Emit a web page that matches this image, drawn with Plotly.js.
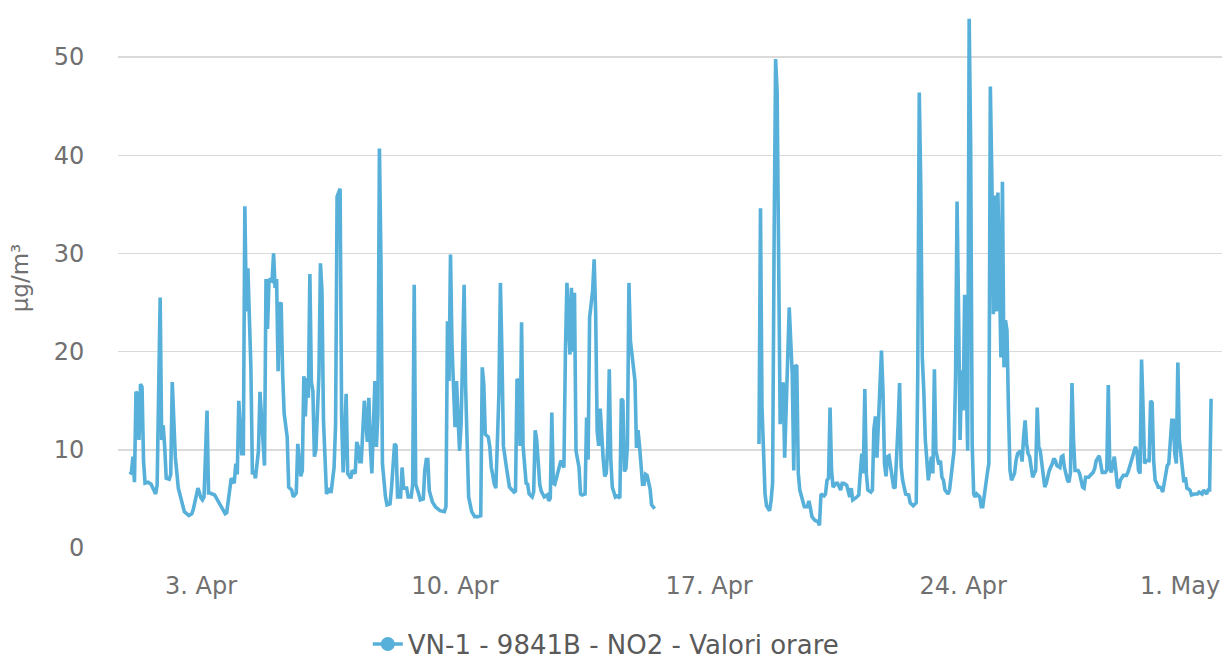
<!DOCTYPE html>
<html>
<head>
<meta charset="utf-8">
<script src="https://cdn.plot.ly/plotly-3.0.1.min.js"></script>
<style>html,body{margin:0;padding:0;background:#fff;}#chart{width:1226px;height:660px;}</style>
</head>
<body>
<div id="chart"></div>
<script>
// Hours since 2023-04-01 00:00 and hourly NO2 values (µg/m³); null marks the missing-data gap
const hours = [1,2,3,4,5,6,7,8,9,10,11,13,15,17,18,19,21,22,23,24,25,27,28,29,30,31,33,35,37,40,42,43,45,46,48,49,50,52,53,54,57,59,62,64,65,67,68,70,71,72,73,75,76,77,78,79,81,82,83,84,86,87,88,90,91,92,93,95,96,97,98,99,100,101,102,103,105,106,108,109,111,112,114,115,116,117,118,119,120,121,122,123,124,126,127,128,129,131,133,134,136,137,138,140,141,142,144,145,147,148,150,151,152,153,154,155,156,158,159,160,161,163,164,165,166,167,168,170,171,173,174,176,177,178,180,181,182,184,185,187,188,189,190,192,193,195,196,197,198,199,201,203,206,209,210,211,212,213,214,216,217,218,219,220,222,223,224,225,227,229,231,233,234,235,236,238,239,240,242,243,245,246,247,248,250,252,255,256,257,258,259,260,261,263,264,265,267,268,269,270,272,273,275,277,278,279,280,281,282,284,285,286,287,288,289,290,292,293,294,295,296,298,299,300,302,303,304,305,307,308,309,310,311,312,314,315,316,317,318,319,320,322,323,325,326,327,328,329,330,331,332,333,335,336,337,338,339,340,341,342,343,345,346,348,
380,
417,418,419,420,421,422,424,425,426,427,428,429,430,431,432,433,434,435,436,437,438,439,440,441,442,443,444,446,447,449,450,451,452,454,456,457,458,460,461,462,463,464,465,466,468,469,471,472,473,475,476,477,478,479,481,483,484,485,486,487,488,489,491,492,493,494,495,496,498,499,500,501,502,503,505,506,507,508,509,510,511,512,514,516,517,519,521,522,523,524,525,526,527,529,530,531,532,533,534,536,537,538,539,540,542,543,544,546,547,548,549,550,551,552,553,554,555,556,557,558,559,560,561,563,564,565,567,568,569,570,571,572,573,574,575,576,577,578,579,580,581,582,583,584,586,587,588,590,591,592,593,594,595,596,597,598,599,600,601,602,603,604,605,606,607,608,609,611,612,613,614,616,617,618,619,621,622,623,624,625,626,628,629,630,631,632,633,634,635,636,638,639,640,642,643,644,646,647,648,649,650,651,652,653,654,655,656,658,659,660,661,662,664,665,666,667,668,669,670,671,672,673,675,676,677,678,679,680,681,682,683,684,686,687,688,689,690,691,692,693,694,695,696,697,698,699,700,702,703,705,707,708,710,711,713,714,715,716];
const no2 = [7.5,7.7,9.3,6.7,15.9,15.7,11,16.7,16.4,8.9,6.6,6.7,6.5,5.7,5.5,6.4,25.5,11,12.5,10.3,7.1,7,7.5,16.9,12,9.3,6.1,4.9,3.7,3.3,3.5,4,5.7,6.1,5.1,4.9,5.2,14,5.6,5.6,5.4,4.9,4.1,3.5,3.6,5.6,7.1,6.6,8.6,7.5,15,9.6,9.6,34.8,24.1,28.5,18.4,7.5,7.9,7.1,9.9,15.9,13.7,8.4,27.4,22.3,27.4,27.2,30,26.5,27.4,18,24.8,25,17.7,13.7,11.3,6.2,5.9,5.2,5.6,10.6,7.3,7.9,17.5,13.4,17.3,15.3,27.9,16.9,16,9.3,10,17.7,29,26.2,13,5.5,6.1,5.6,8.2,12.5,35.8,36.6,13.3,7.7,15.7,7.6,7.1,7.9,7.6,10.8,10.3,8.8,8.8,12.6,15,10.8,15.3,10.3,7.6,17,10.3,13.7,40.7,29.4,8.6,5.2,4.4,4.5,6.1,10.6,10.4,5.2,5.2,8.2,6.1,6.1,5.2,5.2,6.5,26.8,6.5,5.5,4.9,5,7.9,9,9,5.8,4.7,4.2,3.8,3.7,4.2,23.1,17,29.9,20.6,12.3,17,13.2,9.9,12.6,26.8,16.4,8.6,5.2,3.7,3.2,3.2,3.3,18.4,16.7,11.6,11.3,10.3,8.2,6.5,6.1,15.6,27,20,10.4,8.2,6.2,5.7,5.8,17.2,17,10.4,23,10.4,6.6,6.5,5.5,5.2,5.7,12,11,6.5,5.8,5.2,5.4,4.8,5.1,13.8,6.6,6.5,7.8,8.3,8.9,8.6,8.2,20,27,19.7,26.5,20,26,9.9,8.2,5.5,5.4,5.5,13.3,9,23.5,26.2,29.4,24,11.9,10.4,14.2,9,7.3,7.6,10.4,18.2,9,6.2,5.2,5.3,5.1,15.2,15,7.8,8.1,10.4,27,21.1,19.6,17,10.2,12,10.4,8.2,6.5,6.5,7.5,7.4,6,4.4,4.0,
null,
10.6,34.6,14.3,10,5.5,4.3,3.8,4.8,6.6,31.1,49.8,46.5,27.9,12.6,16.7,16.7,9.2,14.3,18.3,24.5,21.1,17.7,7.9,18.6,18.5,7.6,5.9,4.7,4.2,4.2,4.8,4.1,3.2,2.8,2.7,2.3,5.5,5.3,5.5,6.9,7.1,14.3,7.9,6.2,6.6,6.6,5.9,6.6,6.6,6.4,5.9,5.2,6.1,4.9,5.1,5.4,7.6,9.6,7.6,16.2,7.6,5.9,5.7,5.9,12.1,13.4,9.2,13.4,20.1,16,8.6,7.3,9.3,9.4,7.6,6.2,6.1,8.6,12.5,16.8,8.3,6.9,5.5,5.4,4.6,4.3,4.6,17.7,46.4,36.9,19.4,16,11,6.9,8.3,9.3,7.6,18.2,9.9,8.5,8.9,7.2,6.9,5.9,5.5,5.9,7.2,9.9,17.4,35.3,24.1,11,18.1,14,25.8,15.7,9.9,53.9,41,10.6,5.5,5.2,5.5,5.2,4.2,4.2,6.9,7.6,8.6,47,37.7,23.8,35.9,24.1,36.2,25.2,19.4,37.3,18.4,23.2,22.2,14,7.9,6.9,7.6,8.9,9.6,9.9,8.8,11.3,13,10.6,9.6,9.3,8.2,7.2,7.6,7.9,14.3,10.3,9.9,8.6,7.2,6.2,6.6,7.2,7.9,8.6,9.1,8.9,8.4,8.2,9.3,9.4,8.2,6.9,6.7,7.7,16.8,11,7.9,7.9,7.6,6.9,6.2,6.1,7.2,7.2,7.2,7.4,7.7,8.1,8.9,9.4,8.6,7.7,7.7,7.9,16.6,8.2,7.7,8.4,9.3,7.9,6.3,6.1,6.9,7.4,7.4,7.4,7.7,8.2,9.3,10,10.3,9.8,7.9,7.6,19.2,14.3,8.6,8.9,8.9,15,14.8,8.9,6.9,6.6,6.2,6.2,6.1,5.7,7.6,8.4,8.6,10.3,13,13,9.6,8.6,18.9,11,9.6,7.6,6.7,7.2,6.1,5.9,5.4,5.5,5.5,5.7,5.5,5.9,5.5,5.9,5.9,15.2];

const seriesName = 'VN-1 - 9841B - NO2 - Valori orare';
const yTitle = 'μg/m³';
const tickDates = ['2023-04-03', '2023-04-10', '2023-04-17', '2023-04-24'];
const tickLabels = ['3. Apr', '10. Apr', '17. Apr', '24. Apr'];
const lastTickDate = '2023-05-01';
const lastTickLabel = '1. May';
const yTicks = [0, 10, 20, 30, 40, 50];

function pad(n) { return (n < 10 ? '0' : '') + n; }
function hourToDate(h) {
  const d = new Date(Date.UTC(2023, 3, 1) + h * 3600000);
  return d.getUTCFullYear() + '-' + pad(d.getUTCMonth() + 1) + '-' + pad(d.getUTCDate()) + ' ' + pad(d.getUTCHours()) + ':00';
}
const xDates = hours.map(hourToDate);

const color = '#56b0d9';
const tickFont = {family: 'DejaVu Sans, sans-serif', size: 24, color: '#707070'};

// the measured series (line only)
const trace = {
  type: 'scatter',
  mode: 'lines',
  x: xDates,
  y: no2,
  name: seriesName,
  line: {color: color, width: 3.6},
  connectgaps: false,
  showlegend: false,
  legendgroup: 'no2',
  hoverinfo: 'x+y'
};
// legend entry only (line + circle symbol), draws no marks
const legendEntry = {
  type: 'scatter',
  mode: 'lines+markers',
  x: [null],
  y: [null],
  name: seriesName,
  legendgroup: 'no2',
  line: {color: color, width: 3.6},
  marker: {color: color, size: 14},
  showlegend: true,
  hoverinfo: 'skip'
};

const layout = {
  width: 1226,
  height: 660,
  margin: {l: 118, r: 4, t: 8, b: 112},
  paper_bgcolor: '#ffffff',
  plot_bgcolor: '#ffffff',
  showlegend: true,
  xaxis: {
    type: 'date',
    range: ['2023-03-31 17:07', '2023-05-01 03:12'],
    tickvals: tickDates,
    ticktext: tickLabels,
    showgrid: false,
    zeroline: false,
    showline: false,
    ticks: 'outside',
    ticklen: 16,
    tickcolor: 'rgba(0,0,0,0)',
    tickfont: tickFont
  },
  yaxis: {
    range: [0, 55],
    tickvals: yTicks,
    showgrid: true,
    gridcolor: '#dadada',
    gridwidth: 1.5,
    zeroline: false,
    ticks: 'outside',
    ticklen: 28,
    tickcolor: 'rgba(0,0,0,0)',
    tickfont: tickFont,
    title: {text: yTitle, font: {family: 'DejaVu Sans, sans-serif', size: 23, color: '#707070'}, standoff: 18}
  },
  legend: {
    orientation: 'h',
    xref: 'container', yref: 'container',
    x: 0.3, xanchor: 'left',
    y: 0.024, yanchor: 'middle',
    itemsizing: 'trace',
    font: {family: 'DejaVu Sans, sans-serif', size: 26, color: '#5a5a5a'}
  },
  annotations: [{
    xref: 'x', yref: 'paper',
    x: lastTickDate, y: 0,
    xanchor: 'right', yanchor: 'top',
    xshift: 5, yshift: -22,
    text: lastTickLabel,
    showarrow: false,
    font: tickFont
  }]
};

Plotly.newPlot('chart', [trace, legendEntry], layout, {displayModeBar: false, staticPlot: true});
</script>
</body>
</html>
